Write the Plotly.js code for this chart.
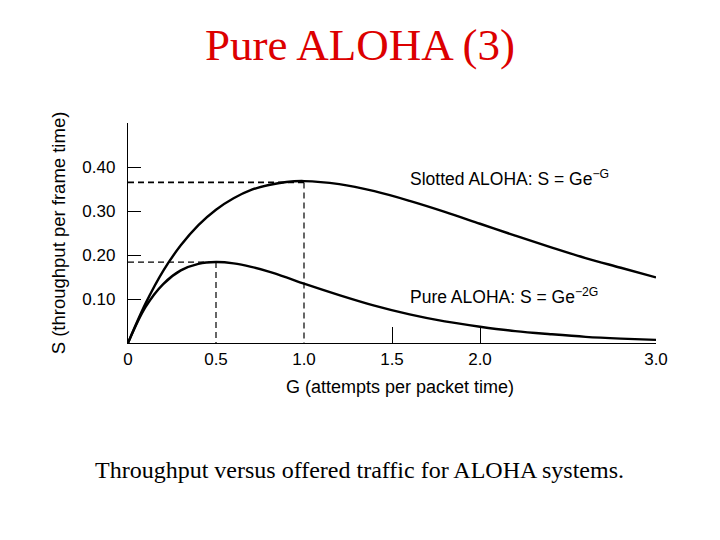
<!DOCTYPE html>
<html>
<head>
<meta charset="utf-8">
<script src="https://cdn.plot.ly/plotly-3.0.1.min.js"></script>
<style>html,body{margin:0;padding:0;background:#fff;}#chart{width:720px;height:540px;}</style>
</head>
<body>
<div id="chart"></div>
<script>
// Offered load G (attempts per packet time)
const G = [0, 0.1, 0.2, 0.3, 0.4, 0.5, 0.6, 0.7, 0.8, 0.9, 1.0, 1.2, 1.4, 1.6, 1.8, 2.0, 2.2, 2.4, 2.6, 2.8, 3.0];
// Slotted ALOHA throughput
const slottedS = [0, 0.090, 0.164, 0.222, 0.268, 0.303, 0.329, 0.348, 0.359, 0.366, 0.368, 0.361, 0.345, 0.323, 0.298, 0.271, 0.244, 0.218, 0.193, 0.171, 0.149];
// Pure ALOHA throughput
const pureS = [0, 0.082, 0.134, 0.165, 0.180, 0.184, 0.181, 0.173, 0.162, 0.149, 0.135, 0.109, 0.085, 0.065, 0.049, 0.037, 0.027, 0.020, 0.014, 0.010, 0.007];
// Peak markers (dashed guides)
const peakG = [1.0, 0.5];
const peakS = [0.365, 0.184];
// Tick labels
const xTickVals = [0, 0.5, 1.0, 1.5, 2.0, 3.0];
const xTickText = ['0', '0.5', '1.0', '1.5', '2.0', '3.0'];
const xTickMarks = [1.5, 2.0, 3.0];
const yTickVals = [0.1, 0.2, 0.3, 0.4];
const yTickText = ['0.10', '0.20', '0.30', '0.40'];
const labels = ['Slotted ALOHA: S = Ge<sup>\u2212G</sup>', 'Pure ALOHA: S = Ge<sup>\u22122G</sup>'];
const xTitle = 'G (attempts per packet time)';
const yTitle = 'S (throughput per frame time)';
const caption = 'Throughput versus offered traffic for ALOHA systems.';

const traces = [];
peakG.forEach((g, i) => {
  traces.push({
    x: [0, g], y: [peakS[i], peakS[i]], mode: 'lines', hoverinfo: 'skip',
    line: {color: '#000', width: i === 0 ? 1.8 : 1.2, dash: '6px,4px'}
  });
  traces.push({
    x: [g, g], y: [peakS[i], 0], mode: 'lines', hoverinfo: 'skip',
    line: {color: '#000', width: 1.2, dash: '6px,4px'}
  });
});
traces.push({x: G, y: slottedS, mode: 'lines', line: {color: '#000', width: 2.4, shape: 'spline'}});
traces.push({x: G, y: pureS, mode: 'lines', line: {color: '#000', width: 2.4, shape: 'spline'}});
// invisible helper trace so the tick-mark overlay axis is drawn
traces.push({x: [G[0], G[G.length - 1]], y: [0, 0], xaxis: 'x2', mode: 'lines', line: {width: 0, color: 'rgba(0,0,0,0)'}, hoverinfo: 'skip'});

const sans = 'Liberation Sans, Arial, sans-serif';
const serif = 'Liberation Serif, Times New Roman, serif';

const layout = {
  width: 720, height: 540,
  margin: {l: 128, r: 64, t: 123, b: 197},
  paper_bgcolor: '#fff', plot_bgcolor: '#fff',
  showlegend: false,
  title: {text: 'Pure ALOHA (3)', font: {family: serif, size: 45, color: 'rgb(220,0,0)'}, x: 0.5, xanchor: 'center', y: 0.918, yanchor: 'middle'},
  font: {family: sans, size: 17, color: '#000'},
  xaxis: {
    range: [0, 3.0], showgrid: false, zeroline: false, showline: true, linecolor: '#000', linewidth: 1.2,
    tickmode: 'array', tickvals: xTickVals, ticktext: xTickText,
    ticks: '',
    tickfont: {family: sans, size: 17}
  },
  xaxis2: {
    overlaying: 'x', matches: 'x', side: 'bottom', anchor: 'y',
    range: [0, 3.0], showgrid: false, zeroline: false, showline: false,
    tickmode: 'array', tickvals: xTickMarks, showticklabels: false,
    ticks: 'inside', ticklen: 16, tickwidth: 1, tickcolor: '#000'
  },
  yaxis: {
    range: [0, 0.5], showgrid: false, zeroline: false, showline: true, linecolor: '#000', linewidth: 1.2,
    tickmode: 'array', tickvals: yTickVals, ticktext: yTickText,
    ticks: 'inside', ticklen: 13, tickwidth: 1, tickcolor: '#000',
    ticklabelstandoff: 8,
    tickfont: {family: sans, size: 17},
    title: {text: yTitle, font: {family: sans, size: 18.5}, standoff: 11}
  },
  annotations: [
    {x: 1.59, y: 0.375, xref: 'x', yref: 'y', text: labels[0], showarrow: false, xanchor: 'left', yanchor: 'middle', font: {family: sans, size: 17.5}},
    {x: 1.59, y: 0.107, xref: 'x', yref: 'y', text: labels[1], showarrow: false, xanchor: 'left', yanchor: 'middle', font: {family: sans, size: 17.5}},
    {x: 0.515, y: -0.2, xref: 'paper', yref: 'paper', text: xTitle, showarrow: false, xanchor: 'center', yanchor: 'middle', font: {family: sans, size: 18}},
    {x: 0.4375, y: -0.577, xref: 'paper', yref: 'paper', text: caption, showarrow: false, xanchor: 'center', yanchor: 'middle', font: {family: serif, size: 24, color: '#000'}}
  ]
};

Plotly.newPlot('chart', traces, layout, {staticPlot: true, displayModeBar: false});
</script>
</body>
</html>
